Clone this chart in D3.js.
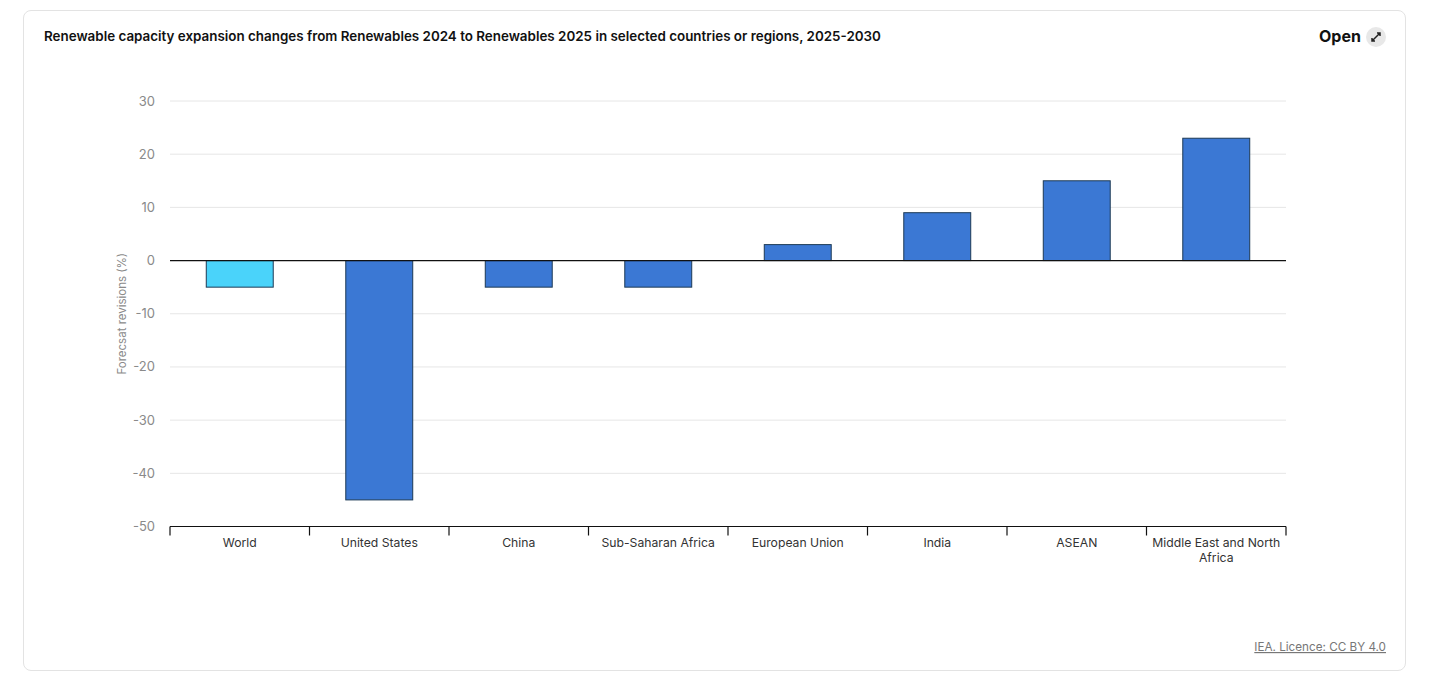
<!DOCTYPE html>
<html>
<head>
<meta charset="utf-8">
<script src="https://cdn.jsdelivr.net/npm/d3@7"></script>
<style>
  body { margin: 0; background: #fff; font-family: Inter, "Noto Sans", sans-serif; }
  .card { position: absolute; left: 23px; top: 10px; width: 1383px; height: 661px;
          border: 1px solid #e3e3e3; border-radius: 8px; box-sizing: border-box; }
</style>
</head>
<body>
<div class="card"></div>
<svg width="1444" height="683" style="position:absolute;left:0;top:0"></svg>
<script>
const categories = ["World", "United States", "China", "Sub-Saharan Africa", "European Union", "India", "ASEAN", "Middle East and North Africa"];
const revisions = [-5, -45, -5, -5, 3, 9, 15, 23];
const barColors = ["#4ad3fa", "#3b78d4", "#3b78d4", "#3b78d4", "#3b78d4", "#3b78d4", "#3b78d4", "#3b78d4"];
const yTicks = [30, 20, 10, 0, -10, -20, -30, -40, -50];

const svg = d3.select("svg");

const left = 170, right = 1286;

const x = d3.scaleBand().domain(categories).range([left, right]).paddingInner(0.52).paddingOuter(0.26);
const xb = d3.scaleBand().domain(categories).range([left, right]);
const y = d3.scaleLinear().domain([-50, 30]).range([526.5, 101]);

// title
svg.append("text")
    .attr("x", 44).attr("y", 41)
    .attr("font-size", "13.4px").attr("font-weight", 600).attr("fill", "#111")
    .text("Renewable capacity expansion changes from Renewables 2024 to Renewables 2025 in selected countries or regions, 2025-2030");

svg.append("text")
    .attr("x", 1319).attr("y", 42)
    .attr("font-size", "16px").attr("font-weight", 700).attr("fill", "#111")
    .text("Open");
svg.append("circle").attr("cx", 1376).attr("cy", 37).attr("r", 10).attr("fill", "#e8e8e8");
svg.append("path")
    .attr("d", "M1372,41 L1380,33 M1377,33 L1380,33 L1380,36 M1372,38 L1372,41 L1375,41")
    .attr("stroke", "#222").attr("stroke-width", 1.5).attr("fill", "none");

// grid
svg.append("g")
    .selectAll("line")
    .data(yTicks.filter(d => d !== 0 && d !== -50))
    .join("line")
    .attr("x1", left).attr("x2", right)
    .attr("y1", d => y(d)).attr("y2", d => y(d))
    .attr("stroke", "#e6e6e6").attr("stroke-width", 1);

// y tick labels
svg.append("g")
    .selectAll("text")
    .data(yTicks)
    .join("text")
    .attr("x", 155)
    .attr("y", d => y(d) + 4.5)
    .attr("text-anchor", "end")
    .attr("font-size", "13px")
    .attr("fill", "#8a8a8a")
    .text(d => d);

svg.append("text")
    .attr("transform", "translate(126," + y(-10) + ") rotate(-90)")
    .attr("text-anchor", "middle")
    .attr("font-size", "11.5px")
    .attr("fill", "#8a8a8a")
    .text("Forecsat revisions (%)");

// bars
svg.append("g")
    .selectAll("rect")
    .data(categories)
    .join("rect")
    .attr("x", d => x(d))
    .attr("width", x.bandwidth())
    .attr("y", (d, i) => y(Math.max(0, revisions[i])))
    .attr("height", (d, i) => Math.abs(y(revisions[i]) - y(0)))
    .attr("fill", (d, i) => barColors[i])
    .attr("stroke", "#1d3a55")
    .attr("stroke-width", 1);

// zero line
svg.append("line")
    .attr("x1", left).attr("x2", right)
    .attr("y1", y(0)).attr("y2", y(0))
    .attr("stroke", "#111").attr("stroke-width", 1.2);

// bottom axis
const xAxis = svg.append("g").attr("transform", "translate(0," + y(-50) + ")");
xAxis.append("line").attr("x1", left).attr("x2", right).attr("stroke", "#111").attr("stroke-width", 1.2);
const bounds = categories.map(d => xb(d)).concat([right]);
xAxis.selectAll("line.tick")
    .data(bounds)
    .join("line")
    .attr("class", "tick")
    .attr("x1", d => d).attr("x2", d => d)
    .attr("y1", 0).attr("y2", 9)
    .attr("stroke", "#111").attr("stroke-width", 1.2);

xAxis.selectAll("text")
    .data(categories)
    .join("text")
    .attr("x", d => xb(d) + xb.bandwidth() / 2)
    .attr("y", 20)
    .attr("text-anchor", "middle")
    .attr("font-size", "12.2px")
    .attr("fill", "#333")
    .each(function(d) {
        const t = d3.select(this);
        if (d === "Middle East and North Africa") {
            t.append("tspan").attr("x", xb(d) + xb.bandwidth() / 2).attr("dy", 0).text("Middle East and North");
            t.append("tspan").attr("x", xb(d) + xb.bandwidth() / 2).attr("dy", 15).text("Africa");
        } else {
            t.text(d);
        }
    });

// footer
svg.append("text")
    .attr("x", 1386).attr("y", 651)
    .attr("text-anchor", "end")
    .attr("font-size", "11.7px")
    .attr("fill", "#777")
    .attr("text-decoration", "underline")
    .text("IEA. Licence: CC BY 4.0");
</script>
</body>
</html>
